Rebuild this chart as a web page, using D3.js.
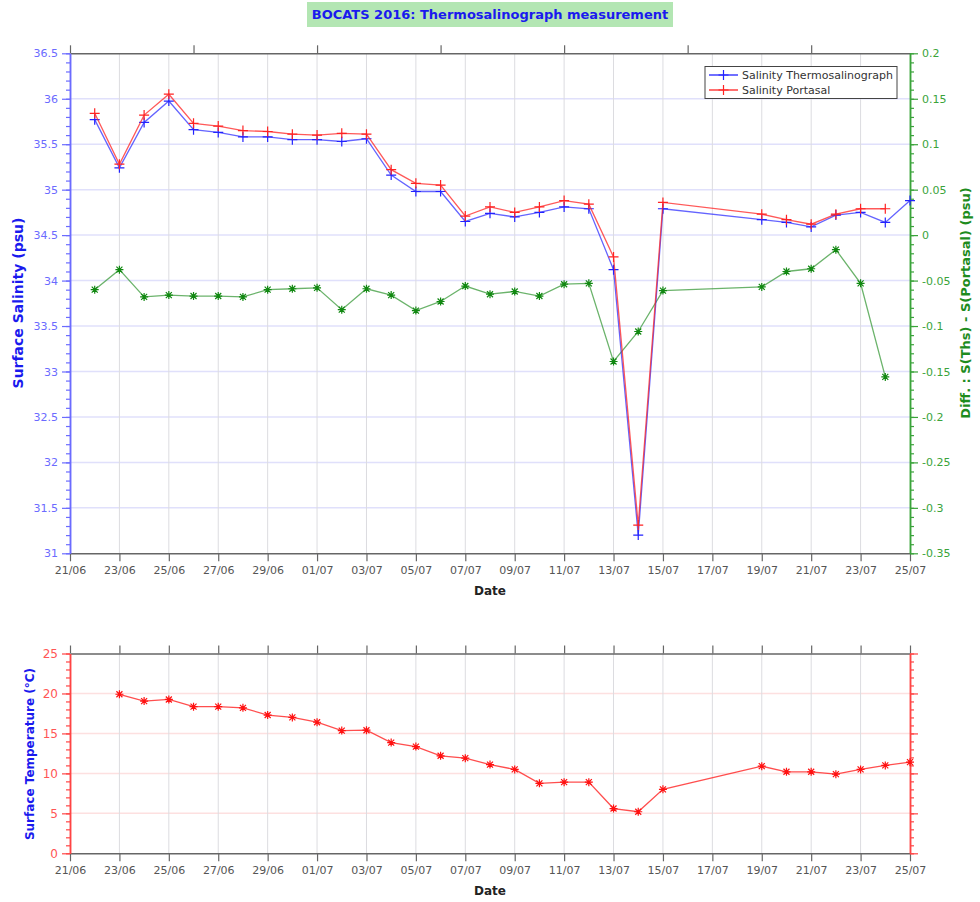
<!DOCTYPE html>
<html>
<head>
<meta charset="utf-8">
<script src="https://cdn.jsdelivr.net/npm/d3@7"></script>
<style>
  body { margin: 0; background: #fff; }
  svg { font-family: 'DejaVu Sans', sans-serif; }
</style>
</head>
<body>
<div class="svg"></div>
<script>
const width = 980
const height = 902

// Data
const salDates = ['22/06', '23/06', '24/06', '25/06', '26/06', '27/06', '28/06', '29/06', '30/06', '01/07',
  '02/07', '03/07', '04/07', '05/07', '06/07', '07/07', '08/07', '09/07', '10/07', '11/07', '12/07',
  '13/07', '14/07', '15/07', '19/07', '20/07', '21/07', '22/07', '23/07', '24/07', '25/07']
const thermo = [35.77, 35.24, 35.74, 35.975, 35.66, 35.63, 35.58, 35.58, 35.55, 35.55,
  35.53, 35.56, 35.16, 34.98, 34.98, 34.65, 34.74, 34.70, 34.75, 34.81, 34.79,
  34.12, 31.20, 34.79, 34.67, 34.64, 34.59, 34.72, 34.75, 34.64, 34.88]
const portasal = [35.84, 35.28, 35.82, 36.05, 35.73, 35.70, 35.65, 35.64, 35.61, 35.60,
  35.62, 35.61, 35.22, 35.07, 35.05, 34.71, 34.81, 34.75, 34.81, 34.88, 34.84,
  34.26, 31.31, 34.86, 34.73, 34.67, 34.62, 34.73, 34.79, 34.79, null]
const diffDates = ['22/06', '23/06', '24/06', '25/06', '26/06', '27/06', '28/06', '29/06', '30/06', '01/07',
  '02/07', '03/07', '04/07', '05/07', '06/07', '07/07', '08/07', '09/07', '10/07', '11/07', '12/07',
  '13/07', '14/07', '15/07', '19/07', '20/07', '21/07', '22/07', '23/07', '24/07']
const diff = [-0.060, -0.038, -0.068, -0.066, -0.067, -0.067, -0.068, -0.060, -0.059, -0.058,
  -0.082, -0.059, -0.066, -0.083, -0.073, -0.056, -0.065, -0.062, -0.067, -0.054, -0.053,
  -0.139, -0.106, -0.061, -0.057, -0.040, -0.037, -0.016, -0.053, -0.156]
const tempDates = ['23/06', '24/06', '25/06', '26/06', '27/06', '28/06', '29/06', '30/06', '01/07',
  '02/07', '03/07', '04/07', '05/07', '06/07', '07/07', '08/07', '09/07', '10/07', '11/07', '12/07',
  '13/07', '14/07', '15/07', '19/07', '20/07', '21/07', '22/07', '23/07', '24/07', '25/07']
const temp = [19.9, 19.05, 19.25, 18.35, 18.35, 18.2, 17.3, 17.0, 16.4,
  15.35, 15.4, 13.85, 13.35, 12.2, 11.9, 11.1, 10.5, 8.75, 8.9, 8.9,
  5.6, 5.2, 8.0, 10.9, 10.2, 10.2, 9.9, 10.5, 11.0, 11.4]

const xTickLabels = ['21/06', '23/06', '25/06', '27/06', '29/06', '01/07', '03/07', '05/07', '07/07',
  '09/07', '11/07', '13/07', '15/07', '17/07', '19/07', '21/07', '23/07', '25/07']
const topTickLabels = ['21/06', '26/06', '01/07', '06/07', '11/07', '16/07', '21/07']
const salTicks = [31, 31.5, 32, 32.5, 33, 33.5, 34, 34.5, 35, 35.5, 36, 36.5]
const diffTicks = [-0.35, -0.3, -0.25, -0.2, -0.15, -0.1, -0.05, 0, 0.05, 0.1, 0.15, 0.2]
const tempTicks = [0, 5, 10, 15, 20, 25]

const parse = s => d3.timeParse('%d/%m/%Y')(s + '/2016')

// Layout
const x0 = 70
const x1 = 910
const top1 = 53.3
const bot1 = 553.3
const top2 = 653.5
const bot2 = 853.3

const svg = d3
  .select('.svg')
  .append('svg')
  .attr('width', width)
  .attr('height', height)

const xScale = d3
  .scaleTime()
  .domain([parse('21/06'), parse('25/07')])
  .range([x0, x1])

const ySal = d3.scaleLinear().domain([31, 36.5]).range([bot1, top1])
const yDiff = d3.scaleLinear().domain([-0.35, 0.2]).range([bot1, top1])
const yTemp = d3.scaleLinear().domain([0, 25]).range([bot2, top2])

const plusPath = 'M-5,0H5M0,-5V5'
const starPath = 'M-4,0H4M0,-4V4M-3,-3L3,3M-3,3L3,-3'

// Title
svg
  .append('rect')
  .attr('x', 307)
  .attr('y', 2)
  .attr('width', 366)
  .attr('height', 25)
  .attr('fill', '#b3e6b3')
svg
  .append('text')
  .attr('x', 490)
  .attr('y', 19)
  .attr('text-anchor', 'middle')
  .attr('font-size', 13)
  .attr('font-weight', 'bold')
  .attr('fill', '#1a1aee')
  .text('BOCATS 2016: Thermosalinograph measurement')

// ---------- Top chart ----------
const tickDates = xTickLabels.map(parse)

// grid
svg
  .append('g')
  .selectAll('line')
  .data(salTicks.slice(1, -1))
  .enter()
  .append('line')
  .attr('x1', x0)
  .attr('x2', x1)
  .attr('y1', d => ySal(d))
  .attr('y2', d => ySal(d))
  .attr('stroke', '#e0e0fb')
  .attr('stroke-width', 1.5)

svg
  .append('g')
  .selectAll('line')
  .data(tickDates.slice(1, -1))
  .enter()
  .append('line')
  .attr('x1', d => xScale(d))
  .attr('x2', d => xScale(d))
  .attr('y1', top1)
  .attr('y2', bot1)
  .attr('stroke', '#dcdce0')
  .attr('stroke-width', 1)

function styleAxis (g, color, fontColor, size) {
  g.select('.domain').attr('stroke', color).attr('stroke-width', 1.5)
  g.selectAll('.tick line').attr('stroke', color).attr('stroke-width', 1.2)
  g.selectAll('.tick text')
    .attr('fill', fontColor)
    .attr('font-size', size || 11)
    .attr('font-family', 'DejaVu Sans, sans-serif')
}

// bottom axis top chart
const xAxisB = svg
  .append('g')
  .attr('transform', 'translate(0,' + bot1 + ')')
  .call(d3.axisBottom(xScale).tickValues(tickDates).tickFormat((d, i) => xTickLabels[i]).tickSize(8).tickSizeOuter(0).tickPadding(5))
styleAxis(xAxisB, '#666', '#555')

// top axis top chart
const xAxisT = svg
  .append('g')
  .attr('transform', 'translate(0,' + top1 + ')')
  .call(d3.axisTop(xScale).tickValues(topTickLabels.map(parse)).tickFormat('').tickSize(8).tickSizeOuter(0))
styleAxis(xAxisT, '#666', '#555')

// left axis
svg
  .append('g')
  .attr('transform', 'translate(' + x0 + ',0)')
  .call(d3.axisLeft(ySal).tickValues(d3.range(310, 366, 1).map(d => d / 10)).tickFormat('').tickSize(4).tickSizeOuter(0))
  .call(g => styleAxis(g, '#6b6bff', '#6b6bff'))
const yAxisL = svg
  .append('g')
  .attr('transform', 'translate(' + x0 + ',0)')
  .call(d3.axisLeft(ySal).tickValues(salTicks).tickFormat(d => d).tickSize(8).tickSizeOuter(0).tickPadding(4))
styleAxis(yAxisL, '#6b6bff', '#6b6bff')

// right axis
svg
  .append('g')
  .attr('transform', 'translate(' + x1 + ',0)')
  .call(d3.axisRight(yDiff).tickValues(d3.range(-35, 21, 1).map(d => d / 100)).tickFormat('').tickSize(4).tickSizeOuter(0))
  .call(g => styleAxis(g, '#3aa33a', '#3aa33a'))
const yAxisR = svg
  .append('g')
  .attr('transform', 'translate(' + x1 + ',0)')
  .call(d3.axisRight(yDiff).tickValues(diffTicks).tickFormat(d => d).tickSize(8).tickSizeOuter(0).tickPadding(4))
styleAxis(yAxisR, '#3aa33a', '#3aa33a')

// axis titles
svg
  .append('text')
  .attr('transform', 'translate(23,303) rotate(-90)')
  .attr('text-anchor', 'middle')
  .attr('font-size', 14)
  .attr('font-weight', 'bold')
  .attr('fill', '#1a1aee')
  .text('Surface Salinity (psu)')

svg
  .append('text')
  .attr('transform', 'translate(970,303) rotate(-90)')
  .attr('text-anchor', 'middle')
  .attr('font-size', 13)
  .attr('font-weight', 'bold')
  .attr('fill', '#1e8c1e')
  .text('Diff. : S(Ths) - S(Portasal) (psu)')

svg
  .append('text')
  .attr('x', 490)
  .attr('y', 595)
  .attr('text-anchor', 'middle')
  .attr('font-size', 12)
  .attr('font-weight', 'bold')
  .attr('fill', '#222')
  .text('Date')

// series
function drawSeries (dates, values, yScale, lineColor, markColor, marker, opacity) {
  const pts = dates
    .map((d, i) => ({ date: parse(d), v: values[i] }))
    .filter(d => d.v !== null)
  svg
    .append('path')
    .datum(pts)
    .attr('fill', 'none')
    .attr('stroke', lineColor)
    .attr('stroke-width', 1.3)
    .attr('stroke-opacity', opacity)
    .attr('d', d3.line().x(d => xScale(d.date)).y(d => yScale(d.v)))
  svg
    .append('g')
    .selectAll('path')
    .data(pts)
    .enter()
    .append('path')
    .attr('transform', d => 'translate(' + xScale(d.date) + ',' + yScale(d.v) + ')')
    .attr('d', marker)
    .attr('fill', 'none')
    .attr('stroke', markColor)
    .attr('stroke-width', 1.2)
}

drawSeries(diffDates, diff, yDiff, '#3a9a3a', '#118811', starPath, 0.75)
drawSeries(salDates, thermo, ySal, '#2222ff', '#2222ff', plusPath, 0.7)
drawSeries(salDates, portasal, ySal, '#ff2222', '#ff2222', plusPath, 0.75)

// Legend
const legend = svg.append('g')
legend
  .append('rect')
  .attr('x', 705)
  .attr('y', 66.5)
  .attr('width', 192)
  .attr('height', 32)
  .attr('fill', '#fff')
  .attr('stroke', '#444')
  .attr('stroke-width', 1)
const legendItems = [
  { name: 'Salinity Thermosalinograph', color: '#2222ff' },
  { name: 'Salinity Portasal', color: '#ff2222' }
]
legendItems.forEach((item, i) => {
  const y = 75 + i * 15
  legend
    .append('line')
    .attr('x1', 709)
    .attr('x2', 738)
    .attr('y1', y)
    .attr('y2', y)
    .attr('stroke', item.color)
    .attr('stroke-width', 1.3)
  legend
    .append('path')
    .attr('transform', 'translate(723.5,' + y + ')')
    .attr('d', plusPath)
    .attr('stroke', item.color)
    .attr('stroke-width', 1.2)
  legend
    .append('text')
    .attr('x', 742)
    .attr('y', y + 4)
    .attr('font-size', 11)
    .attr('fill', '#333')
    .text(item.name)
})

// ---------- Bottom chart ----------
svg
  .append('g')
  .selectAll('line')
  .data(tempTicks.slice(1, -1))
  .enter()
  .append('line')
  .attr('x1', x0)
  .attr('x2', x1)
  .attr('y1', d => yTemp(d))
  .attr('y2', d => yTemp(d))
  .attr('stroke', '#fde0e0')
  .attr('stroke-width', 1.5)

svg
  .append('g')
  .selectAll('line')
  .data(tickDates.slice(1, -1))
  .enter()
  .append('line')
  .attr('x1', d => xScale(d))
  .attr('x2', d => xScale(d))
  .attr('y1', top2)
  .attr('y2', bot2)
  .attr('stroke', '#dcdce0')
  .attr('stroke-width', 1)

const xAxisB2 = svg
  .append('g')
  .attr('transform', 'translate(0,' + bot2 + ')')
  .call(d3.axisBottom(xScale).tickValues(tickDates).tickFormat((d, i) => xTickLabels[i]).tickSize(8).tickSizeOuter(0).tickPadding(5))
styleAxis(xAxisB2, '#666', '#555')

const xAxisT2 = svg
  .append('g')
  .attr('transform', 'translate(0,' + top2 + ')')
  .call(d3.axisTop(xScale).tickValues(tickDates).tickFormat('').tickSize(8).tickSizeOuter(0))
styleAxis(xAxisT2, '#666', '#555')

svg
  .append('g')
  .attr('transform', 'translate(' + x0 + ',0)')
  .call(d3.axisLeft(yTemp).tickValues(d3.range(0, 26, 1)).tickFormat('').tickSize(4).tickSizeOuter(0))
  .call(g => styleAxis(g, '#ff4444', '#ff4444'))
const yAxisL2 = svg
  .append('g')
  .attr('transform', 'translate(' + x0 + ',0)')
  .call(d3.axisLeft(yTemp).tickValues(tempTicks).tickFormat(d => d).tickSize(8).tickSizeOuter(0).tickPadding(4))
styleAxis(yAxisL2, '#ff4444', '#ff5555', 12)

svg
  .append('g')
  .attr('transform', 'translate(' + x1 + ',0)')
  .call(d3.axisRight(yTemp).tickValues(d3.range(0, 26, 1)).tickFormat('').tickSize(4).tickSizeOuter(0))
  .call(g => styleAxis(g, '#ff4444', '#ff4444'))
const yAxisR2 = svg
  .append('g')
  .attr('transform', 'translate(' + x1 + ',0)')
  .call(d3.axisRight(yTemp).tickValues(tempTicks).tickFormat('').tickSize(8).tickSizeOuter(0))
styleAxis(yAxisR2, '#ff4444', '#ff4444')

svg
  .append('text')
  .attr('transform', 'translate(34,754) rotate(-90)')
  .attr('text-anchor', 'middle')
  .attr('font-size', 12)
  .attr('font-weight', 'bold')
  .attr('fill', '#1a1aee')
  .text('Surface Temperature (°C)')

svg
  .append('text')
  .attr('x', 490)
  .attr('y', 895)
  .attr('text-anchor', 'middle')
  .attr('font-size', 12)
  .attr('font-weight', 'bold')
  .attr('fill', '#222')
  .text('Date')

drawSeries(tempDates, temp, yTemp, '#ff2222', '#ff1111', starPath, 0.8)
</script>
</body>
</html>
